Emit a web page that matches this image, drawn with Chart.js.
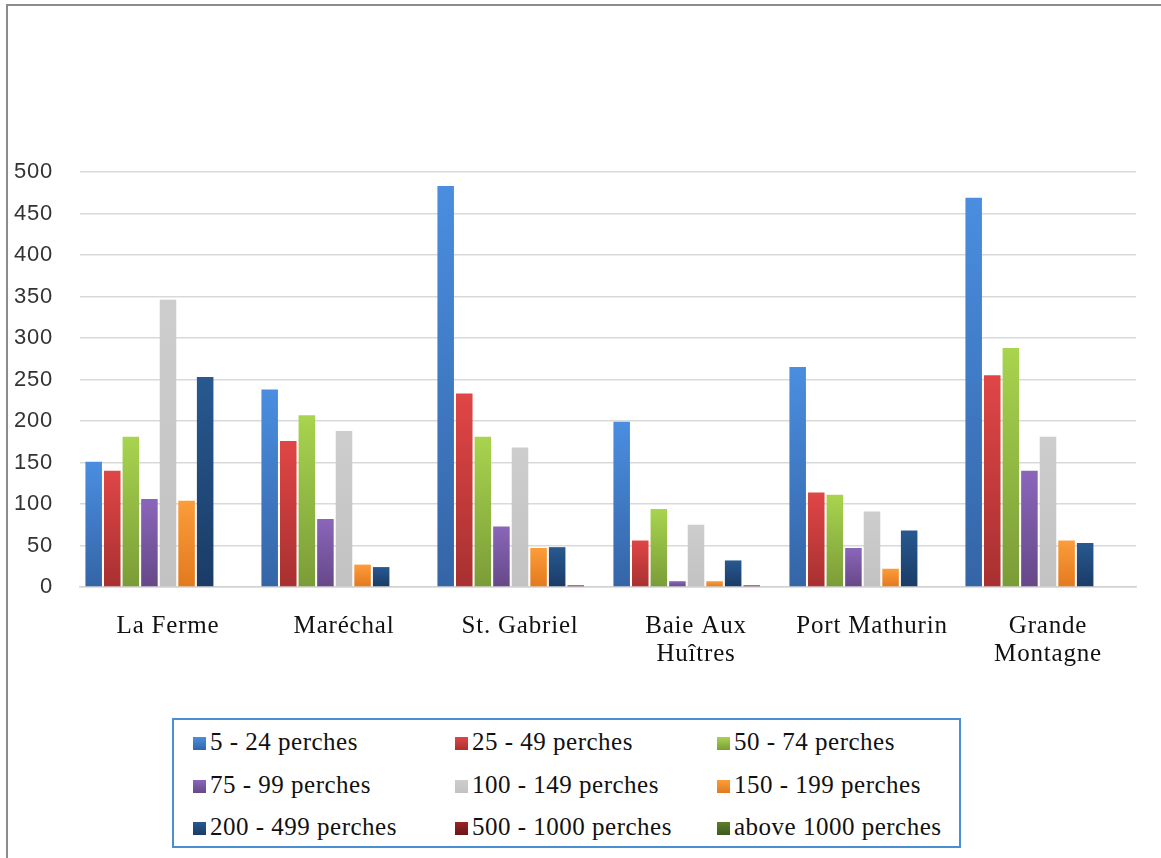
<!DOCTYPE html>
<html>
<head>
<meta charset="utf-8">
<script src="https://cdn.jsdelivr.net/npm/chart.js@4.4.1/dist/chart.umd.min.js"></script>
<style>
  body { margin: 0; background: #fff; width: 1161px; height: 858px; overflow: hidden; position: relative; }
  #frame { position: absolute; left: 6px; top: 4px; width: 1200px; height: 900px; border-left: 2px solid #8c8c8c; border-top: 2px solid #8c8c8c; }
  #wrap { position: absolute; left: 0; top: 0; width: 1161px; height: 700px; }
  #legend { position: absolute; left: 172px; top: 718px; width: 785px; height: 126px; border: 2px solid #4a8fd4; }
  .item { position: absolute; height: 28px; line-height: 28px; font-family: "Liberation Serif", "Times New Roman", serif; font-size: 25px; letter-spacing: 0.5px; color: #111; white-space: nowrap; }
  .item i { display: inline-block; width: 13px; height: 13px; margin-right: 4px; vertical-align: 0px; }
</style>
</head>
<body>
<div id="frame"></div>
<div id="wrap"><canvas id="chart" width="1161" height="700"></canvas></div>
<div id="legend"></div>
<script>
var categories = [['La Ferme'], ['Maréchal'], ['St. Gabriel'], ['Baie Aux', 'Huîtres'], ['Port Mathurin'], ['Grande', 'Montagne']];

var seriesLabels = ['5 - 24 perches', '25 - 49 perches', '50 - 74 perches', '75 - 99 perches', '100 - 149 perches',
  '150 - 199 perches', '200 - 499 perches', '500 - 1000 perches', 'above 1000 perches'];

var s5_24     = [151, 238, 483, 199, 265, 469];
var s25_49    = [140, 176, 233, 56, 114, 255];
var s50_74    = [181, 207, 181, 94, 111, 288];
var s75_99    = [106, 82, 73, 7, 47, 140];
var s100_149  = [346, 188, 168, 75, 91, 181];
var s150_199  = [104, 27, 47, 7, 22, 56];
var s200_499  = [253, 24, 48, 32, 68, 53];
var s500_1000 = [0, 0, 2, 2, 0, 0];
var sAbove1000 = [0, 0, 0, 0, 0, 0];

var yTicks = [0, 50, 100, 150, 200, 250, 300, 350, 400, 450, 500];

var seriesData = [s5_24, s25_49, s50_74, s75_99, s100_149, s150_199, s200_499, s500_1000, sAbove1000];

// couleur haut / bas de chaque barre
var topColors = ['#4a8ee0', '#e04646', '#a8d44e', '#8a66ba', '#cdcdcd', '#fc9c3a', '#275990', '#9a2424', '#5c7e2c'];
var bottomColors = ['#3465a6', '#a83030', '#7a9c38', '#664888', '#c2c2c2', '#e27a1e', '#1a3b66', '#6a1616', '#3e5a1e'];

function barFill(i) {
  return function(ctx) {
    var chart = ctx.chart;
    var area = chart.chartArea;
    var y = chart.scales && chart.scales.y;
    if (!area || !y || ctx.type !== 'data') return topColors[i];
    var yTop = y.getPixelForValue(ctx.raw);
    if (!(area.bottom - yTop > 1)) return topColors[i];
    var g = chart.ctx.createLinearGradient(0, yTop, 0, area.bottom);
    g.addColorStop(0, topColors[i]);
    g.addColorStop(1, bottomColors[i]);
    return g;
  };
}

var datasets = seriesData.map(function(d, i) {
  return {
    label: seriesLabels[i],
    data: d,
    backgroundColor: barFill(i),
    borderWidth: 0,
    categoryPercentage: 0.95,
    barPercentage: 0.89
  };
});

// texte un peu espacé comme dans l'original
var spacing = {
  id: 'spacing',
  beforeUpdate: function(chart) { chart.ctx.letterSpacing = '0.8px'; },
  beforeDraw: function(chart) { chart.ctx.letterSpacing = '0.8px'; }
};

new Chart(document.getElementById('chart'), {
  type: 'bar',
  data: { labels: categories, datasets: datasets },
  plugins: [spacing],
  options: {
    responsive: false,
    animation: false,
    layout: { padding: { top: 172, right: 25, bottom: 33, left: 0 } },
    plugins: { legend: { display: false }, tooltip: { enabled: false } },
    scales: {
      x: {
        grid: { display: false },
        border: { display: true, color: '#d2d2d2', width: 1.5 },
        ticks: {
          color: '#111',
          padding: 17,
          maxRotation: 0,
          autoSkip: false,
          font: { family: '"Liberation Serif", "Times New Roman", serif', size: 25, lineHeight: '28px' }
        },
        afterFit: function(scale) { scale.height = 80; }
      },
      y: {
        min: 0,
        max: 500,
        afterBuildTicks: function(scale) {
          scale.ticks = yTicks.map(function(v) { return { value: v }; });
        },
        grid: { color: '#d9d9d9', lineWidth: 1.5, drawTicks: false },
        border: { display: false },
        ticks: {
          color: '#333',
          padding: 27,
          font: { family: '"Liberation Sans", Arial, sans-serif', size: 22 }
        },
        afterFit: function(scale) { scale.width = 80; }
      }
    }
  }
});

// légende en trois colonnes
var legend = document.getElementById('legend');
seriesLabels.forEach(function(lab, i) {
  var col = i % 3, row = Math.floor(i / 3);
  var el = document.createElement('div');
  el.className = 'item';
  el.style.left = (19 + col * 262) + 'px';
  el.style.top = (8 + row * 42.5) + 'px';
  el.innerHTML = '<i style="background:linear-gradient(' + topColors[i] + ',' + bottomColors[i] + ')"></i>' + lab;
  legend.appendChild(el);
});
</script>
</body>
</html>
